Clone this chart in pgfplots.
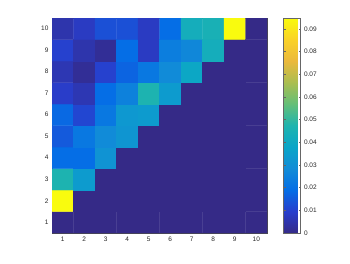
\documentclass[border=0pt]{standalone}
\usepackage{pgfplots}
\pgfplotsset{compat=1.18}
\usepackage{fontspec}
\setmainfont{Liberation Sans}
\pgfplotstableread{
x y c
1 1 0
2 1 0
3 1 0
4 1 0
5 1 0
6 1 0
7 1 0
8 1 0
9 1 0
10 1 0
1 2 0.0948
2 2 0
3 2 0
4 2 0
5 2 0
6 2 0
7 2 0
8 2 0
9 2 0
10 2 0
1 3 0.047
2 3 0.034
3 3 0
4 3 0
5 3 0
6 3 0
7 3 0
8 3 0
9 3 0
10 3 0
1 4 0.019
2 4 0.019
3 4 0.031
4 4 0
5 4 0
6 4 0
7 4 0
8 4 0
9 4 0
10 4 0
1 5 0.015
2 5 0.022
3 5 0.028
4 5 0.032
5 5 0
6 5 0
7 5 0
8 5 0
9 5 0
10 5 0
1 6 0.018
2 6 0.011
3 6 0.022
4 6 0.033
5 6 0.034
6 6 0
7 6 0
8 6 0
9 6 0
10 6 0
1 7 0.009
2 7 0.006
3 7 0.019
4 7 0.025
5 7 0.047
6 7 0.034
7 7 0
8 7 0
9 7 0
10 7 0
1 8 0.006
2 8 0.002
3 8 0.010
4 8 0.017
5 8 0.022
6 8 0.028
7 8 0.039
8 8 0
9 8 0
10 8 0
1 9 0.010
2 9 0.005
3 9 0.002
4 9 0.019
5 9 0.008
6 9 0.024
7 9 0.027
8 9 0.043
9 9 0
10 9 0
1 10 0.005
2 10 0.008
3 10 0.013
4 10 0.013
5 10 0.008
6 10 0.019
7 10 0.043
8 10 0.045
9 10 0.0948
10 10 0
}\datatable
\begin{document}
\begin{tikzpicture}
\path (-52pt,-30pt) rectangle (298pt,233pt);
\begin{axis}[
  scale only axis,
  width=215pt, height=215pt,
  at={(0,0)}, anchor=south west,
  xmin=0.5, xmax=10.5, ymin=0.5, ymax=10.5,
  xtick={1,...,10}, ytick={1,...,10},
  tick align=inside,
  major tick length=2pt,
  axis line style={draw=black!70, line width=0.4pt},
  every tick/.style={black!70},
  tick label style={font=\fontsize{6.5}{7}\selectfont, text=black!85},
  /pgf/number format/assume math mode=true,
  colormap={parula}{
    rgb255=(53,42,135)
    rgb255=(40,62,205)
    rgb255=(5,110,230)
    rgb255=(18,140,215)
    rgb255=(10,165,200)
    rgb255=(30,180,175)
    rgb255=(100,191,120)
    rgb255=(170,190,80)
    rgb255=(235,185,60)
    rgb255=(250,210,40)
    rgb255=(249,251,14)
  },
  point meta min=0, point meta max=0.0948,
  colorbar right,
  colorbar style={
    at={(parent axis.north east)}, anchor=north west,
    xshift=8pt,
    width=17pt,
    ytick={0,0.01,...,0.09},
    scaled y ticks=false,
    yticklabel style={font=\fontsize{6.5}{7}\selectfont, text=black!85,
      /pgf/number format/fixed, /pgf/number format/precision=2,
      /pgf/number format/assume math mode=true},
    axis line style={draw=black!60},
    major tick length=2pt,
    tick align=inside,
    every tick/.style={black!60},
  },
]
\addplot[matrix plot*, mesh/cols=10, point meta=explicit] table[x=x, y=y, meta=c] {\datatable};
\end{axis}
\end{tikzpicture}
\end{document}
